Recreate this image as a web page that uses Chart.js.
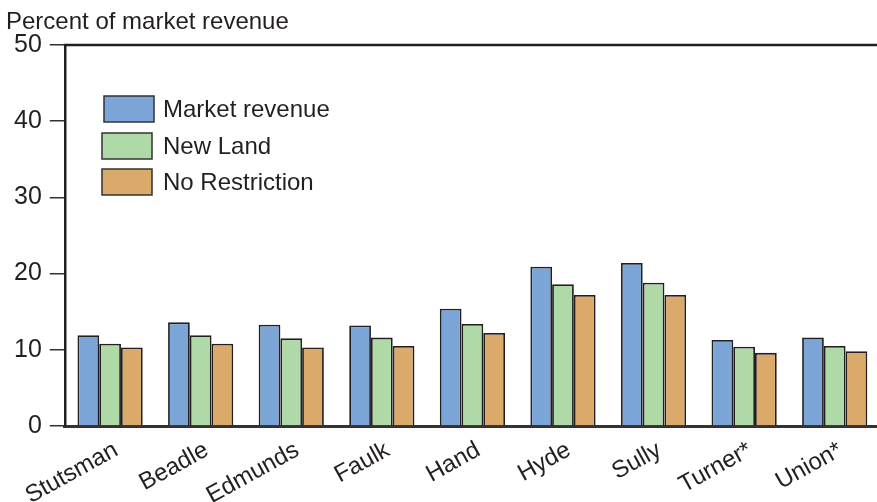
<!DOCTYPE html>
<html>
<head>
<meta charset="utf-8">
<script src="https://cdn.jsdelivr.net/npm/chart.js@4"></script>
<style>
  html, body { margin: 0; padding: 0; background: #fff; overflow: hidden; }
  #wrap { width: 877px; height: 502px; overflow: hidden; }
</style>
</head>
<body>
<div id="wrap"><canvas id="myChart" width="882" height="502"></canvas></div>
<script>
  const counties = ['Stutsman', 'Beadle', 'Edmunds', 'Faulk', 'Hand', 'Hyde', 'Sully', 'Turner*', 'Union*']
  const marketRevenue = [11.9, 13.6, 13.3, 13.2, 15.4, 20.9, 21.4, 11.3, 11.6]
  const newLand = [10.8, 11.9, 11.5, 11.6, 13.4, 18.6, 18.8, 10.4, 10.5]
  const noRestriction = [10.3, 10.8, 10.3, 10.5, 12.2, 17.2, 17.2, 9.6, 9.8]
  const yTicks = [0, 10, 20, 30, 40, 50]

  const FONT = '"Liberation Sans", Arial, Helvetica, sans-serif'
  const INK = '#231f20'

  // y title, inset legend and top frame line
  const extras = {
    id: 'extras',
    afterDraw (chart) {
      const { ctx, chartArea } = chart
      ctx.save()
      ctx.strokeStyle = INK
      ctx.lineWidth = 2.5
      ctx.beginPath()
      ctx.moveTo(chartArea.left - 1, chartArea.top)
      ctx.lineTo(chartArea.right, chartArea.top)
      ctx.stroke()

      ctx.fillStyle = INK
      ctx.font = '24px ' + FONT
      ctx.textBaseline = 'alphabetic'
      ctx.fillText('Percent of market revenue', 6, 29)

      const boxes = [[104, 96], [102, 133], [102, 169]]
      ctx.font = '24px ' + FONT
      chart.data.datasets.forEach((ds, i) => {
        const [x, y] = boxes[i]
        ctx.fillStyle = ds.backgroundColor
        ctx.fillRect(x, y, 50, 26)
        ctx.strokeStyle = '#333'
        ctx.lineWidth = 1.5
        ctx.strokeRect(x, y, 50, 26)
        ctx.fillStyle = INK
        ctx.textBaseline = 'middle'
        ctx.fillText(ds.label, 163, y + 14)
      })
      ctx.restore()
    }
  }

  const ctx = document.getElementById('myChart')
  // eslint-disable-next-line no-unused-vars
  const myChart = new Chart(ctx, {
    type: 'bar',
    data: {
      labels: counties,
      datasets: [{
        label: 'Market revenue',
        data: marketRevenue,
        backgroundColor: '#7ba5d7',
        borderColor: INK,
        borderWidth: 1.8
      }, {
        label: 'New Land',
        data: newLand,
        backgroundColor: '#b0d9a8',
        borderColor: INK,
        borderWidth: 1.8
      }, {
        label: 'No Restriction',
        data: noRestriction,
        backgroundColor: '#dba96a',
        borderColor: INK,
        borderWidth: 1.8
      }]
    },
    options: {
      responsive: false,
      animation: false,
      devicePixelRatio: 1,
      layout: { padding: { top: 45, left: 6, right: 2, bottom: 0 } },
      datasets: {
        bar: { categoryPercentage: 0.72, barPercentage: 1.0 }
      },
      scales: {
        x: {
          grid: { display: true, drawOnChartArea: false, drawTicks: false },
          border: { display: true, color: '#333', width: 3 },
          afterFit (axis) { axis.height = 76 },
          ticks: {
            color: INK,
            font: { family: FONT, size: 24 },
            minRotation: 29,
            maxRotation: 29,
            autoSkip: false,
            padding: 10,
            labelOffset: 6
          }
        },
        y: {
          min: 0,
          max: 50,
          afterBuildTicks (axis) {
            axis.ticks = yTicks.map(v => ({ value: v }))
          },
          grid: { drawOnChartArea: false, drawTicks: true, tickLength: 15, color: '#333', lineWidth: 1.5 },
          border: { display: true, color: INK, width: 2.5 },
          ticks: {
            color: INK,
            font: { family: FONT, size: 25 },
            padding: 8
          }
        }
      },
      plugins: {
        legend: { display: false },
        tooltip: { enabled: false }
      }
    },
    plugins: [extras]
  })
</script>
</body>
</html>
